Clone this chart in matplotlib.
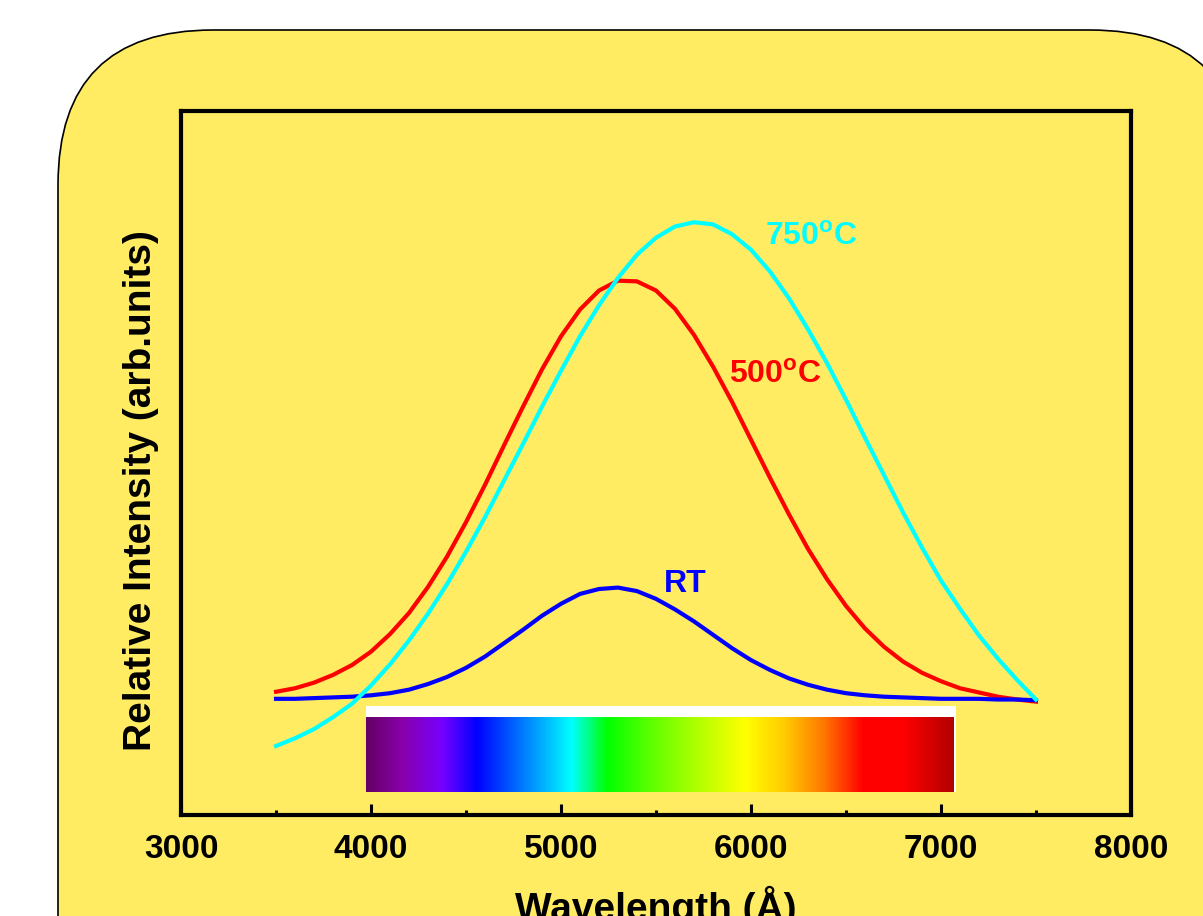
import numpy as np
import matplotlib
matplotlib.use("Agg")
import matplotlib.pyplot as plt
from matplotlib.patches import FancyBboxPatch, Rectangle
from matplotlib.colors import LinearSegmentedColormap

plt.rcParams['font.family'] = ['Liberation Sans', 'DejaVu Sans']
plt.rcParams['font.weight'] = 'bold'
plt.rcParams['mathtext.fontset'] = 'custom'
plt.rcParams['mathtext.bf'] = 'Liberation Sans:bold'
plt.rcParams['mathtext.rm'] = 'Liberation Sans:bold'

# wavelength grid (Angstrom), read every 100 A
wavelength = list(range(3500, 7501, 100))

# relative intensity (arb. units)
rt = [16.5, 16.5, 16.6, 16.7, 16.8, 17.0, 17.3, 17.8, 18.6, 19.6, 20.9,
      22.5, 24.4, 26.3, 28.3, 30.0, 31.4, 32.1,
      32.3, 31.8, 30.7, 29.2, 27.5, 25.6, 23.7, 22.0, 20.6, 19.4, 18.5,
      17.8, 17.3, 17.0, 16.8, 16.7, 16.6, 16.5, 16.5, 16.5, 16.4, 16.4, 16.3]
t500 = [17.5, 18.0, 18.8, 19.9, 21.3, 23.2, 25.7, 28.7, 32.4, 36.7, 41.6,
        46.9, 52.5, 58.0, 63.3, 68.0, 71.8, 74.5, 75.9,
        75.8, 74.5, 71.9, 68.2, 63.7, 58.7, 53.3, 47.9, 42.7, 37.8, 33.5,
        29.7, 26.5, 23.9, 21.8, 20.2, 19.0, 18.0, 17.4, 16.8, 16.4, 16.1]
t750 = [9.8, 10.9, 12.2, 13.9, 15.8, 18.4, 21.4, 24.8, 28.6, 32.8, 37.4,
        42.3, 47.5, 52.7, 58.0, 63.1, 68.0, 72.4, 76.3, 79.6, 82.0, 83.6, 84.2,
        83.9, 82.5, 80.3, 77.2, 73.4, 69.0, 64.2, 59.0, 53.6, 48.3, 43.0,
        38.0, 33.3, 29.3, 25.5, 22.2, 19.2, 16.4]

# visible spectrum strip
spec_stops = [0.0, 0.06, 0.128, 0.188, 0.242, 0.296, 0.349, 0.41, 0.477,
              0.558, 0.645, 0.712, 0.78, 0.847, 0.914, 1.0]
spec_colors = ['#660066', '#8800aa', '#7700ff', '#0000ff', '#0055ff', '#00aaff',
               '#00ffff', '#00ff00', '#55ff00', '#aaff00', '#ffff00', '#ffcc00',
               '#ff7700', '#ff0000', '#ff0000', '#b30000']

yellow = '#ffec62'

fig = plt.figure(figsize=(12.03, 9.16), dpi=100)

# rounded yellow background panel (partly off the page)
box = FancyBboxPatch((0.58, -3.0), 12.45 - 0.58, 8.86 + 3.0,
                     boxstyle="round,pad=0,rounding_size=1.55",
                     transform=fig.dpi_scale_trans,
                     facecolor=yellow, edgecolor='black', lw=1.2, zorder=-10)
fig.add_artist(box)

ax = fig.add_axes([0.1505, 0.1103, 0.7896, 0.7685])
ax.set_facecolor('none')
ax.set_zorder(5)

ax.plot(wavelength, t500, color='#ff0000', lw=3, zorder=3)
ax.plot(wavelength, rt, color='#0000ff', lw=3, zorder=4)
ax.plot(wavelength, t750, color='#00ffff', lw=3, zorder=5)

# spectrum bar
ax.add_patch(Rectangle((3973, 3.3), 7079 - 3973, 15.5 - 3.3,
                       facecolor='white', edgecolor='none', zorder=1))
cmap = LinearSegmentedColormap.from_list('spec', list(zip(spec_stops, spec_colors)))
grad = np.linspace(0, 1, 512).reshape(1, -1)
ax.imshow(grad, cmap=cmap, aspect='auto', extent=[3973, 7068, 3.3, 13.9],
          zorder=2, interpolation='bilinear')

ax.text(6074, 81.0, r'750$^{\mathbf{o}}$C', color='#00ffff', fontsize=23,
        fontweight='bold', ha='left', va='baseline')
ax.text(5884, 61.4, r'500$^{\mathbf{o}}$C', color='#ff0000', fontsize=23,
        fontweight='bold', ha='left', va='baseline')
ax.text(5542, 31.7, 'RT', color='#0000ff', fontsize=23,
        fontweight='bold', ha='left', va='baseline')

ax.set_xlim(3000, 8000)
ax.set_ylim(0, 100)
ax.set_xticks([3000, 4000, 5000, 6000, 7000, 8000])
ax.set_xticks([3500, 4500, 5500, 6500, 7500], minor=True)
ax.set_yticks([])
ax.tick_params(axis='x', which='major', direction='in', length=8, width=2.2,
               pad=14, labelsize=24)
ax.tick_params(axis='x', which='minor', direction='in', length=3.5, width=2.2)
for lab in ax.get_xticklabels():
    lab.set_fontweight('bold')
for sp in ax.spines.values():
    sp.set_linewidth(3)

fig.text(0.1172, 0.464, 'Relative Intensity (arb.units)', rotation=90,
         ha='center', va='center', fontsize=28, fontweight='bold')
fig.text(0.5453, -0.004, 'Wavelength (Å)', ha='center', va='baseline',
         fontsize=28, fontweight='bold')

fig.savefig('out.png', dpi=100)
